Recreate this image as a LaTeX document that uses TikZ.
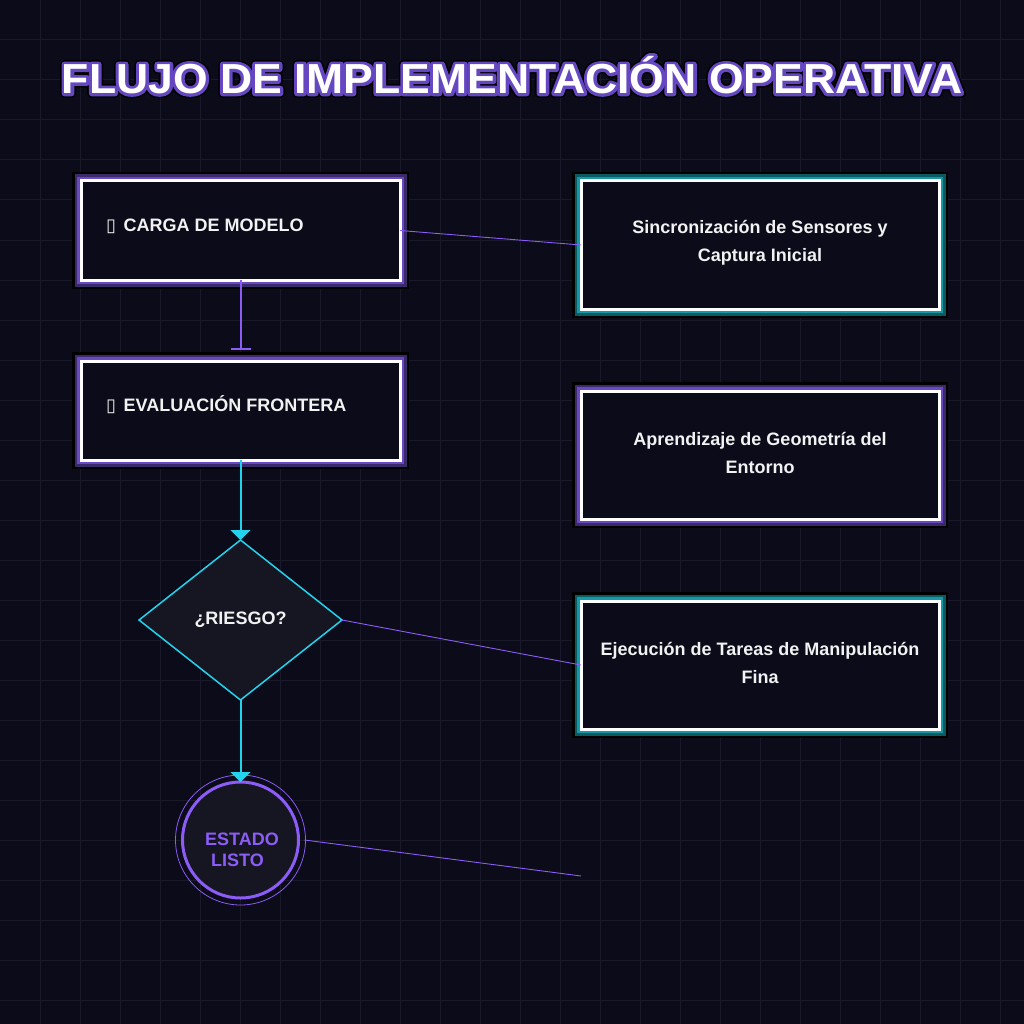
\documentclass[tikz,border=0pt]{standalone}
\usepackage{fontspec}
\setmainfont{Liberation Sans}
\newfontfamily\symfont{DejaVu Sans}
\usetikzlibrary{arrows.meta,shapes.geometric,calc}
\definecolor{bg}{HTML}{0B0B1A}
\definecolor{gridc}{HTML}{191929}
\definecolor{pdark}{HTML}{3B2A6B}
\definecolor{pmid}{HTML}{6A48C2}
\definecolor{tdark}{HTML}{0A5A62}
\definecolor{tmid}{HTML}{1499A8}
\definecolor{violet}{HTML}{8B5CF6}
\definecolor{cyanl}{HTML}{22D3EE}
\definecolor{shapefill}{HTML}{161622}
\definecolor{txt}{HTML}{F2F2F2}
\newcommand{\strokedtxt}[3]{\special{pdf:literal direct 1 Tr #1 w 1 j #2 RG}#3\special{pdf:literal direct 0 Tr}}
\newcommand{\titlestr}{FLUJO DE IMPLEMENTACIÓN OPERATIVA}
\tikzset{
  x=1pt, y=-1pt,
  glowpurple/.style={rectangle, inner sep=0pt, outer sep=0pt,
    preaction={draw=black, line width=18.4pt},
    preaction={draw=pdark, line width=13pt},
    preaction={draw=pmid, line width=8.4pt},
    fill=bg, draw=white, line width=3pt},
  glowteal/.style={rectangle, inner sep=0pt, outer sep=0pt,
    preaction={draw=black, line width=18.4pt},
    preaction={draw=tdark, line width=13pt},
    preaction={draw=tmid, line width=8.4pt},
    fill=bg, draw=white, line width=3pt},
  leftbox/.style={glowpurple, minimum width=319pt, minimum height=99pt},
  rightbox/.style={minimum width=358pt, minimum height=128pt},
  lefttext/.style={anchor=base west, inner sep=0pt, text=txt, font=\fontsize{18}{21}\selectfont\bfseries},
  righttext/.style={align=center, inner sep=0pt, text=txt, font=\fontsize{18}{28}\selectfont\bfseries},
  thinlink/.style={draw=violet, line width=0.9pt},
  flowarrow/.style={draw=cyanl, line width=2pt, -{Triangle[width=20pt,length=10pt]}},
  titletext/.style={inner sep=0pt, xscale=1.06, font=\fontsize{42}{50}\selectfont\bfseries},
}
\begin{document}
\begin{tikzpicture}
\fill[bg] (0,0) rectangle (1024,1024);
\useasboundingbox (0,0) rectangle (1024,1024);
\foreach \g in {40,80,...,1000} {
  \draw[gridc, line width=1pt] (\g,0) -- (\g,1024);
  \draw[gridc, line width=1pt] (0,\g) -- (1024,\g);
}
% title with outline glow
\node[titletext, text=black] (titleouter) at (512,75) {\strokedtxt{9}{0 0 0}{\titlestr}};
\node[titletext, text=pmid] (titleglow) at (512,75) {\strokedtxt{6}{0.40 0.28 0.76}{\titlestr}};
\node[titletext, text=white] (title) at (512,75) {\titlestr};

% left boxes
\node[leftbox] (carga) at (240.5,230.5) {};
\node[lefttext] (cargat) at (106,231.5) {{\symfont ▯}\hspace{2.5pt} CARGA DE MODELO};
\node[leftbox] (eval) at (240.5,410.5) {};
\node[lefttext] (evalt) at (106,411.5) {{\symfont ▯}\hspace{2.5pt} EVALUACIÓN FRONTERA};

% right boxes
\node[glowteal, rightbox] (sync) at (760,245) {};
\node[righttext] (synct) at (760,243) {Sincronización de Sensores y\\Captura Inicial};
\node[glowpurple, rightbox] (apre) at (760,455) {};
\node[righttext] (apret) at (760,453) {Aprendizaje de Geometría del\\Entorno};
\node[glowteal, rightbox] (ejec) at (760,665) {};
\node[righttext] (eject) at (760,663) {Ejecución de Tareas de Manipulación\\Fina};

% diamond
\node[diamond, draw=cyanl, fill=shapefill, line width=1.5pt, inner sep=0pt, outer sep=0pt,
  minimum width=203pt, minimum height=160pt, text=txt, font=\fontsize{18}{21}\selectfont\bfseries]
  (risk) at (240.5,620) {¿RIESGO?};

% final circle
\node[circle, draw=violet, fill=shapefill, line width=3pt, inner sep=0pt, outer sep=0pt,
  minimum size=116pt] (listo) at (240.5,840) {};
\draw[violet, line width=0.8pt] (listo.center) circle (65);
\node[inner sep=0pt, align=left, text=violet, font=\fontsize{18}{21}\selectfont\bfseries] (listot) at (242,850)
  {ESTADO\\\hspace{6pt}LISTO};

% connectors
\draw[draw=violet, line width=2pt, -{Bar[width=20pt,line width=2pt]}, shorten >=11pt] (carga.south) -- (eval.north);
\draw[flowarrow] (eval.south) -- (risk.north);
\draw[flowarrow] (risk.south) -- (listo.north);
\draw[thinlink] (carga.east) -- (sync.west);
\draw[thinlink] (risk.east) -- (ejec.west);
\coordinate (freeend) at (581,876);
\draw[thinlink] (listo.east) ++(6,0) -- (freeend);
\end{tikzpicture}
\end{document}
